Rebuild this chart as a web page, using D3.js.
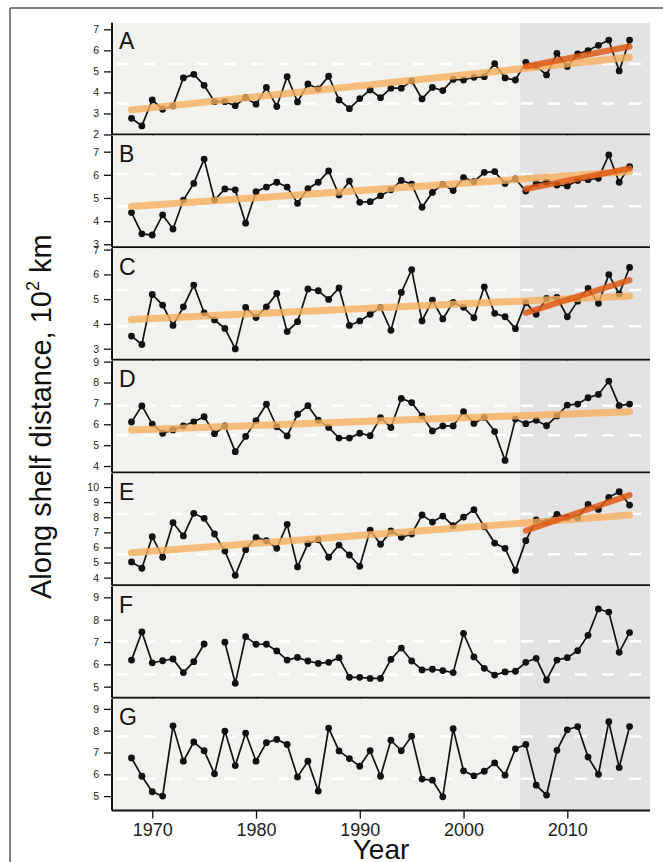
<!DOCTYPE html>
<html>
<head>
<meta charset="utf-8">
<script src="https://cdn.jsdelivr.net/npm/d3@7"></script>
<style>
  body { margin: 0; background: #fff; }
  svg { display: block; font-family: Arial, "Liberation Sans", Helvetica, sans-serif; }
</style>
</head>
<body>
<svg id="canvas" width="663" height="862"></svg>
<script>
let years = d3.range(1968, 2017)

let labels = ["A", "B", "C", "D", "E", "F", "G"]

let seriesA = [2.77,2.41,3.64,3.2,3.36,4.69,4.86,4.34,3.56,3.56,3.37,3.75,3.44,4.24,3.33,4.75,3.55,4.4,4.17,4.77,3.64,3.23,3.71,4.12,3.75,4.2,4.2,4.55,3.69,4.24,4.09,4.62,4.59,4.72,4.75,5.37,4.69,4.59,5.43,5.25,4.83,5.86,5.23,5.83,5.99,6.24,6.49,5.02,6.49]
let seriesB = [4.37,3.45,3.4,4.27,3.66,4.91,5.63,6.68,4.91,5.39,5.35,3.91,5.27,5.47,5.68,5.47,4.77,5.4,5.68,6.17,5.13,5.73,4.81,4.84,5.1,5.35,5.76,5.6,4.6,5.24,5.59,5.32,5.88,5.7,6.11,6.14,5.62,5.82,5.3,5.63,5.68,5.56,5.52,5.76,5.79,5.85,6.86,5.68,6.35]
let seriesC = [3.51,3.17,5.19,4.76,3.94,4.69,5.57,4.45,4.16,3.82,2.99,4.67,4.26,4.69,5.23,3.69,4.09,5.41,5.34,4.99,5.45,3.94,4.12,4.39,4.67,3.74,5.27,6.19,4.12,4.96,4.2,4.87,4.67,4.25,5.5,4.43,4.29,3.81,4.86,4.39,5.03,5.07,4.29,4.92,5.43,4.83,5.99,5.21,6.28]
let seriesD = [6.11,6.88,6.01,5.57,5.73,5.92,6.12,6.36,5.55,5.92,4.69,5.42,6.17,6.96,5.88,5.44,6.48,6.89,6.2,5.85,5.34,5.34,5.57,5.45,6.32,5.84,7.24,7.04,6.4,5.68,5.92,5.92,6.6,6.04,6.33,5.65,4.27,6.25,6.03,6.19,5.93,6.4,6.92,6.97,7.27,7.43,8.07,6.89,6.97]
let seriesE = [5.04,4.62,6.71,5.35,7.64,6.76,8.26,7.93,6.89,5.76,4.15,5.85,6.67,6.45,5.94,7.53,4.71,6.25,6.51,5.35,6.16,5.5,4.75,7.15,6.21,7.09,6.67,6.89,8.15,7.68,8.08,7.44,8.01,8.5,7.37,6.29,5.94,4.48,6.45,7.82,7.7,8.19,7.97,7.97,8.85,8.52,9.32,9.69,8.81]
let seriesF = [6.19,7.45,6.07,6.16,6.24,5.63,6.12,6.91,null,6.99,5.15,7.24,6.9,6.9,6.6,6.19,6.31,6.15,6.04,6.09,6.3,5.42,5.42,5.37,5.37,6.22,6.73,6.15,5.75,5.78,5.72,5.63,7.39,6.33,5.82,5.52,5.66,5.69,6.09,6.27,5.3,6.19,6.3,6.61,7.3,8.48,8.34,6.54,7.42]
let seriesG = [6.75,5.91,5.2,5.0,8.22,6.6,7.48,7.08,6.02,7.98,6.4,7.89,6.6,7.45,7.6,7.37,5.88,6.6,5.23,8.12,7.07,6.72,6.37,7.08,5.91,7.56,7.08,7.75,5.78,5.73,4.97,8.09,6.16,5.93,6.14,6.52,5.96,7.17,7.37,5.5,5.05,7.1,8.04,8.19,6.79,6.0,8.41,6.31,8.19]

// y-axis domains and tick values per panel
let yDomains = [[2.0, 7.31], [2.875, 7.7], [2.55, 7.06], [3.69, 9.04], [3.5, 10.9], [4.5, 9.5], [4.34, 9.46]]
let yTicks = [[2,3,4,5,6,7], [3,4,5,6,7], [3,4,5,6,7], [4,5,6,7,8,9], [4,5,6,7,8,9,10], [5,6,7,8,9], [5,6,7,8,9]]

// white dashed reference levels (upper, lower)
let refLevels = [[5.35, 3.47], [6.04, 4.64], [5.37, 3.91], [6.89, 5.48], [8.21, 5.55], [7.03, 5.55], [7.73, 5.8]]

// trend lines: full period 1968-2016 and recent period 2006-2016
let trendFull = [[3.17, 5.67], [4.63, 6.14], [4.18, 5.13], [5.73, 6.6], [5.65, 8.15], null, null]
let trendRecent = [[5.23, 6.18], [5.39, 6.28], [4.45, 5.77], null, [7.11, 9.47], null, null]

let xTicks = [1970, 1980, 1990, 2000, 2010]
let shadeStart = 2005.45

let series = [seriesA, seriesB, seriesC, seriesD, seriesE, seriesF, seriesG]

let canvas = d3.select("#canvas")

let left = 112
let right = 650
let panelH = 111.7
let bottom0 = 134.5
let step = 112.67

let x = d3.scaleLinear().domain([1966.12, 2017.97]).range([left, right])

// outer frame
canvas.append("line").attr("x1", 10).attr("x2", 663).attr("y1", 8).attr("y2", 8)
  .attr("stroke", "#555").attr("stroke-width", 1.5)
canvas.append("line").attr("x1", 10).attr("x2", 10).attr("y1", 8).attr("y2", 862)
  .attr("stroke", "#555").attr("stroke-width", 1.5)

series.forEach((vals, i) => {
  let bottom = bottom0 + i * step
  let top = bottom - panelH
  let y = d3.scaleLinear().domain(yDomains[i]).range([bottom, top])
  let g = canvas.append("g")

  g.append("rect")
    .attr("x", left).attr("y", top)
    .attr("width", x(shadeStart) - left).attr("height", panelH)
    .attr("fill", "#f1f2ed")
  g.append("rect")
    .attr("x", x(shadeStart)).attr("y", top)
    .attr("width", right - x(shadeStart)).attr("height", panelH)
    .attr("fill", "#e2e2e2")

  g.selectAll(".ref").data(refLevels[i]).enter()
    .append("line")
    .attr("x1", left + 4).attr("x2", right)
    .attr("y1", d => y(d)).attr("y2", d => y(d))
    .attr("stroke", "#fff").attr("stroke-width", 2.5)
    .attr("stroke-dasharray", "12,15")

  let pts = years.map((yr, j) => ({ yr: yr, v: vals[j] }))

  let line = d3.line()
    .defined(d => d.v != null)
    .x(d => x(d.yr))
    .y(d => y(d.v))

  g.append("path")
    .datum(pts)
    .attr("d", line)
    .attr("fill", "none")
    .attr("stroke", "#111")
    .attr("stroke-width", 1.7)

  g.selectAll("circle").data(pts.filter(d => d.v != null)).enter()
    .append("circle")
    .attr("cx", d => x(d.yr))
    .attr("cy", d => y(d.v))
    .attr("r", 3.4)
    .attr("fill", "#111")

  if (trendFull[i]) {
    g.append("line")
      .attr("x1", x(1968)).attr("x2", x(2016))
      .attr("y1", y(trendFull[i][0])).attr("y2", y(trendFull[i][1]))
      .attr("stroke", "#f6ae5c").attr("stroke-opacity", 0.8)
      .attr("stroke-width", 7).attr("stroke-linecap", "round")
  }
  if (trendRecent[i]) {
    g.append("line")
      .attr("x1", x(2006)).attr("x2", x(2016))
      .attr("y1", y(trendRecent[i][0])).attr("y2", y(trendRecent[i][1]))
      .attr("stroke", "#df5a14").attr("stroke-opacity", 0.85)
      .attr("stroke-width", 6).attr("stroke-linecap", "round")
  }

  // left axis
  let ya = g.append("g")
    .attr("transform", "translate(" + left + ",0)")
    .call(d3.axisLeft(y).tickValues(yTicks[i]).tickSize(8).tickPadding(5).tickSizeOuter(0).tickFormat(d3.format("d")))
  ya.select(".domain").attr("d", "M0," + top + "V" + bottom).attr("stroke", "#111").attr("stroke-width", 2)
  ya.selectAll(".tick line").attr("stroke", "#111").attr("stroke-width", 1.3)
  ya.selectAll(".tick text").attr("font-size", 10.5).attr("fill", "#222").attr("font-family", "Arial, 'Liberation Sans', sans-serif")

  // bottom axis
  let last = i == series.length - 1
  let xa = g.append("g")
    .attr("transform", "translate(0," + bottom + ")")
    .call(d3.axisBottom(x).tickValues(xTicks).tickSize(8).tickPadding(5).tickSizeOuter(0).tickFormat(last ? d3.format("d") : ""))
  xa.select(".domain").attr("d", "M" + left + ",0H" + right).attr("stroke", "#111").attr("stroke-width", 2)
  xa.selectAll(".tick line").attr("stroke", "#111").attr("stroke-width", 1.3)
  xa.selectAll(".tick text").attr("font-size", 18).attr("fill", "#222").attr("font-family", "Arial, 'Liberation Sans', sans-serif")

  g.append("text")
    .attr("x", 119).attr("y", top + 26.5)
    .attr("font-size", 23)
    .attr("fill", "#111")
    .text(labels[i])
})

canvas.append("text")
  .attr("x", (left + right) / 2).attr("y", 859)
  .attr("text-anchor", "middle")
  .attr("font-size", 28)
  .attr("fill", "#111")
  .text("Year")

let yl = canvas.append("text")
  .attr("transform", "translate(51," + ((bottom0 - panelH + bottom0 + 6 * step) / 2) + ") rotate(-90)")
  .attr("text-anchor", "middle")
  .attr("font-size", 29)
  .attr("fill", "#111")
yl.append("tspan").text("Along shelf distance, 10")
yl.append("tspan").attr("font-size", 18).attr("dy", -12).text("2")
yl.append("tspan").attr("dy", 12).text(" km")
</script>
</body>
</html>
